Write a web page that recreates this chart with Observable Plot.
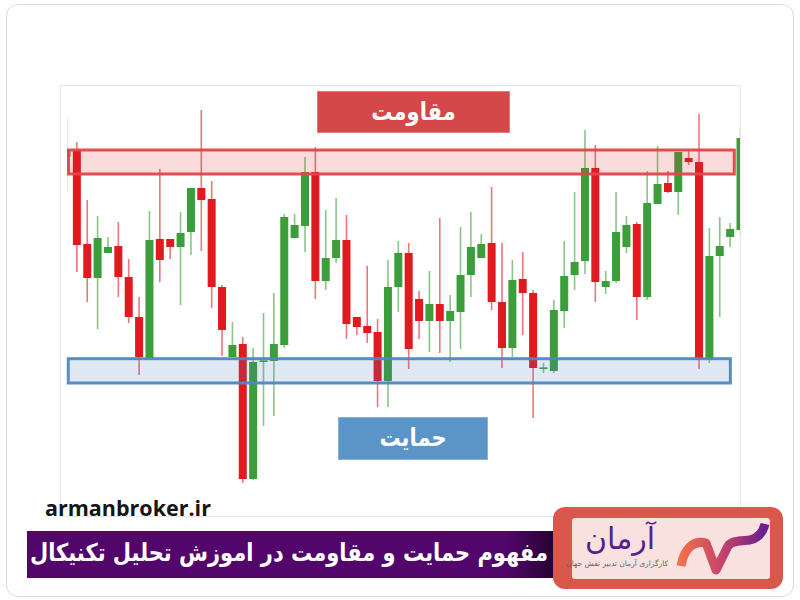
<!DOCTYPE html>
<html>
<head>
<meta charset="utf-8">
<script src="https://cdn.jsdelivr.net/npm/d3@7"></script>
<script src="https://cdn.jsdelivr.net/npm/@observablehq/plot@0.6"></script>
<style>
  html, body { margin: 0; padding: 0; background: #fff; }
  #page { position: relative; width: 800px; height: 600px; overflow: hidden; background: #fff; }
  #chart { position: absolute; left: 0; top: 0; }
  .abs { position: absolute; box-sizing: border-box; }
  .fa { font-family: "DejaVu Sans", sans-serif; font-weight: bold; direction: rtl; color: #fff; text-align: center; white-space: nowrap; }
  .tall { display: inline-block; transform: scaleY(1.18); }
</style>
</head>
<body>
<div id="page">
  <div class="abs" style="left:6px;top:4px;width:788px;height:593px;border:1px solid #d9d9d9;border-radius:12px;"></div>
  <div class="abs" style="left:60px;top:85px;width:681px;height:432px;border:1px solid #e6e6e6;"></div>
  <div id="chart"></div>
  <div class="abs fa" style="left:317px;top:91px;width:193px;height:42px;background:#d44849;border:1px solid #e27a7a;line-height:40px;font-size:21px;"><span id="resLabel" class="tall"></span></div>
  <div class="abs fa" style="left:338px;top:417px;width:150px;height:43px;background:#5b95c8;border:1px solid #86b2da;line-height:41px;font-size:21px;"><span id="supLabel" class="tall"></span></div>
  <div id="site" class="abs" style="left:45px;top:493px;font-family:'Open Sans',sans-serif;font-weight:bold;font-size:21.5px;color:#151515;"></div>
  <div class="abs fa" style="left:27px;top:531px;width:530px;height:47px;background:linear-gradient(to right,#52066b 0%,#52066b 90%,#24022f 100%);line-height:45px;font-size:21px;text-align:right;padding-right:9px;"><span id="title" class="tall"></span></div>
  <div class="abs" style="left:553px;top:507px;width:230px;height:82px;background:#d9574b;border-radius:12px;"></div>
  <div class="abs" style="left:572px;top:518px;width:198px;height:61px;background:#f8e1df;border-radius:3px;"></div>
  <div id="brand" class="abs" style="left:572px;top:521px;width:96px;text-align:center;font-family:'DejaVu Sans',sans-serif;font-size:30px;color:#56208c;direction:rtl;"></div>
  <div id="brandSub" class="abs" style="left:572px;top:559px;width:96px;text-align:center;font-family:'DejaVu Sans',sans-serif;font-size:7.5px;color:#666;direction:rtl;white-space:nowrap;"></div>
  <svg class="abs" style="left:0;top:0" width="800" height="600">
    <defs>
      <linearGradient id="wave" x1="0" x2="1" y1="0" y2="0">
        <stop offset="0" stop-color="#f0704a"/>
        <stop offset="0.5" stop-color="#c4426a"/>
        <stop offset="1" stop-color="#6a1e8e"/>
      </linearGradient>
    </defs>
    <path d="M 681 566 C 684 548, 694 540, 706 543 L 716 570 L 728 546 C 732 540, 742 541, 750 540 C 758 538, 763 532, 765 524"
          fill="none" stroke="url(#wave)" stroke-width="9" stroke-linejoin="round"/>
  </svg>
</div>
<script>
// Candles, left to right: open, high, low, close
const opens  = [343,350,256,222,247,254,223,183,142,261,261,253,268,312,301,213,143,156,21,138,139,155,262,274,328,219,242,260,183,174,168,119,213,247,201,179,196,179,188,225,242,257,198,152,221,207,131,129,189,225,239,332,213,219,253,276,203,296,317,308,342,338,141,244,263,270];
const highs  = [382,358,300,284,263,278,241,203,289,331,261,288,312,390,319,215,178,163,152,187,207,286,286,343,353,290,302,285,183,234,181,240,259,257,209,229,282,205,273,288,266,313,257,240,248,210,137,200,259,308,370,355,229,308,284,278,329,354,329,348,350,386,272,283,277,372];
const lows   = [308,228,198,171,247,203,177,125,142,218,241,195,245,249,192,144,143,17,20,74,84,152,262,248,201,210,237,161,165,157,93,93,188,131,161,148,147,138,151,203,242,190,132,143,165,82,127,127,172,210,226,198,206,217,247,180,200,296,307,285,335,131,137,183,253,265];
const closes = [350,255,222,262,253,223,183,143,260,240,253,267,312,300,213,170,155,21,138,139.6,156,283,275,328,219,242,260,176,173,167,119,213,247,151,179,196,179,189,225,253,256,198,152,220,207,132,132.6,190,224,238,332,218,219,268,275,203,297,316,308,348,338,141,244,254,271,362];

// Resistance and support zones (price range) and their horizontal span in candle units
const resistanceZone = [326, 350];
const supportZone = [117, 141.3];
const resistanceSpan = [0.24, 64.45];
const supportSpan = [0.22, 64.07];

// Texts
const resistanceLabel = "مقاومت";
const supportLabel = "حمایت";
const siteText = "armanbroker.ir";
const titleText = "مفهوم حمایت و مقاومت در اموزش تحلیل تکنیکال";
const brandText = "آرمان";
const brandSubText = "کارگزاری آرمان تدبیر نقش جهان";

const candles = opens.map((o, i) => ({
  i, open: o, high: highs[i], low: lows[i], close: closes[i],
  up: closes[i] >= o
}));

const RED = "#e01a1f", GREEN = "#3b9e3b";

const chart = Plot.plot({
  width: 800,
  height: 600,
  marginLeft: 67,
  marginRight: 60,
  marginTop: 85,
  marginBottom: 85,
  style: {background: "transparent", overflow: "visible"},
  x: {domain: [0, 65], range: [66, 740], axis: null},
  y: {domain: [0, 500], range: [500, 0], axis: null},
  marks: [
    // wicks
    Plot.ruleX(candles, {
      x: "i", y1: "low", y2: "high",
      stroke: d => d.up ? GREEN : RED,
      strokeOpacity: 0.6, strokeWidth: 1.6, clip: true
    }),
    // bodies
    Plot.ruleX(candles, {
      x: "i", y1: "open", y2: "close",
      stroke: d => d.up ? GREEN : RED,
      strokeWidth: 8, clip: true
    }),
    // resistance zone
    Plot.rect([{x1: resistanceSpan[0], x2: resistanceSpan[1], y1: resistanceZone[0], y2: resistanceZone[1]}], {
      x1: "x1", x2: "x2", y1: "y1", y2: "y2",
      fill: "rgb(222,40,48)", fillOpacity: 0.17,
      stroke: "#e3444a", strokeWidth: 3, strokeOpacity: 0.95
    }),
    // support zone
    Plot.rect([{x1: supportSpan[0], x2: supportSpan[1], y1: supportZone[0], y2: supportZone[1]}], {
      x1: "x1", x2: "x2", y1: "y1", y2: "y2",
      fill: "rgb(70,120,190)", fillOpacity: 0.17,
      stroke: "#4f86c1", strokeWidth: 3, strokeOpacity: 0.95
    })
  ]
});
document.getElementById("chart").appendChild(chart);

document.getElementById("resLabel").textContent = resistanceLabel;
document.getElementById("supLabel").textContent = supportLabel;
document.getElementById("site").textContent = siteText;
document.getElementById("title").textContent = titleText;
document.getElementById("brand").textContent = brandText;
document.getElementById("brandSub").textContent = brandSubText;
</script>
</body>
</html>
